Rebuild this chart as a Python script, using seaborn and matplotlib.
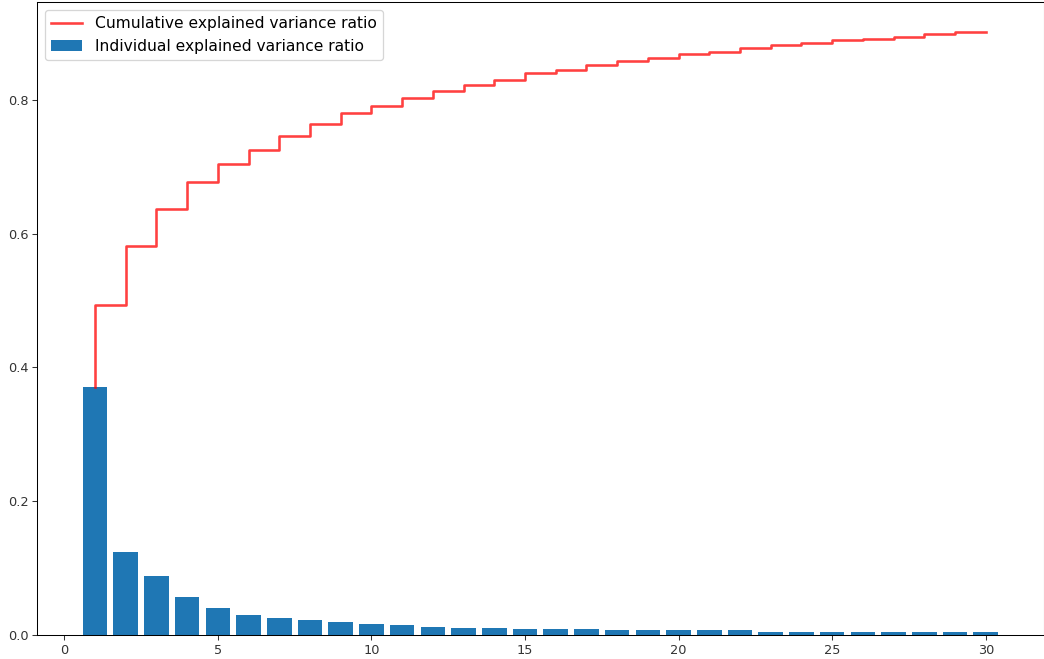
import numpy as np
import matplotlib
matplotlib.use("Agg")
import matplotlib.pyplot as plt
import seaborn as sns

components = list(range(1, 31))
individual = [0.371, 0.124, 0.087, 0.056, 0.039, 0.029, 0.024, 0.022, 0.018, 0.016,
              0.014, 0.0115, 0.010, 0.010, 0.008, 0.008, 0.008, 0.006, 0.006, 0.006,
              0.006, 0.006, 0.004, 0.004, 0.004, 0.004, 0.004, 0.004, 0.004, 0.004]
cumulative = [0.371, 0.494, 0.582, 0.6365, 0.677, 0.704, 0.725, 0.747, 0.764, 0.780,
              0.791, 0.803, 0.813, 0.822, 0.830, 0.840, 0.845, 0.853, 0.8585, 0.863,
              0.8685, 0.8725, 0.878, 0.882, 0.886, 0.890, 0.891, 0.895, 0.899, 0.9015]

W, H, DPI = 1044, 659, 93
fig = plt.figure(figsize=(W / DPI, H / DPI), dpi=DPI)
left, right, top, bottom = 37.3, 1043.5, 2.2, 634.5
ax = fig.add_axes([left / W, 1 - bottom / H, (right - left) / W, (bottom - top) / H])

sns.barplot(x=components, y=individual, color="#1f77b4", saturation=1,
            native_scale=True, label="Individual explained variance ratio", ax=ax)
sns.lineplot(x=components, y=cumulative, drawstyle="steps-pre", color="red",
             alpha=0.75, linewidth=2, label="Cumulative explained variance ratio", ax=ax)

ax.set_xlim(-0.88, 31.88)
ax.set_ylim(0, 0.9466)
ax.set_xticks([0, 5, 10, 15, 20, 25, 30])
ax.set_yticks([0.0, 0.2, 0.4, 0.6, 0.8])
ax.set_xlabel("")
ax.set_ylabel("")
ax.tick_params(labelsize=10, colors="#333333", labelcolor="#333333")

h, l = ax.get_legend_handles_labels()
order = [l.index("Cumulative explained variance ratio"), l.index("Individual explained variance ratio")]
ax.legend([h[i] for i in order], [l[i] for i in order], loc="upper left", fontsize=12)

fig.savefig("out.png", dpi=DPI)
